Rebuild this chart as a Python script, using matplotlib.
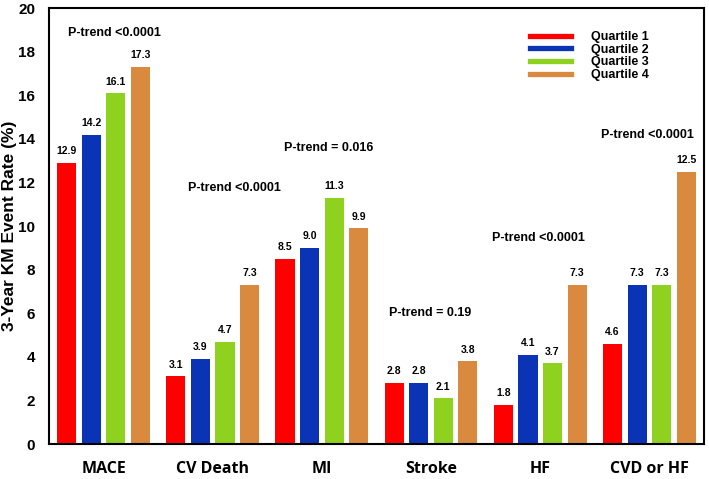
import numpy as np
import matplotlib.pyplot as plt
from matplotlib.lines import Line2D

categories = ["MACE", "CV Death", "MI", "Stroke", "HF", "CVD or HF"]
quartiles = ["Quartile 1", "Quartile 2", "Quartile 3", "Quartile 4"]
q1 = [12.9, 3.1, 8.5, 2.8, 1.8, 4.6]
q2 = [14.2, 3.9, 9.0, 2.8, 4.1, 7.3]
q3 = [16.1, 4.7, 11.3, 2.1, 3.7, 7.3]
q4 = [17.3, 7.3, 9.9, 3.8, 7.3, 12.5]
p_texts = ["P-trend <0.0001", "P-trend <0.0001", "P-trend = 0.016",
           "P-trend = 0.19", "P-trend <0.0001", "P-trend <0.0001"]
p_x = [0.10, 1.20, 2.06, 2.99, 3.98, 4.98]
p_y = [18.85, 11.75, 13.6, 6.0, 9.45, 14.2]

colors = ["#ff0000", "#0a34b5", "#8ed11f", "#d98a3f"]

fig = plt.figure(figsize=(7.09, 4.79), dpi=100)
ax = fig.add_axes([0.069, 0.073, 0.924, 0.910])

x = np.arange(len(categories))
width = 0.175
step = 0.225
series = [q1, q2, q3, q4]
for i, vals in enumerate(series):
    xs = x + (i - 1.5) * step
    ax.bar(xs, vals, width=width, color=colors[i], zorder=2)
    for xi, v in zip(xs, vals):
        ax.text(xi, v + 0.3, f"{v:.1f}", ha="center", va="bottom",
                fontsize=7.5, fontweight="bold", family="Liberation Sans")

for t, px, py in zip(p_texts, p_x, p_y):
    ax.text(px, py, t, ha="center", va="center", fontsize=9,
            fontweight="bold", family="Liberation Sans")

ax.set_xlim(-0.5, 5.5)
ax.set_ylim(0, 20)
ax.set_yticks(range(0, 21, 2))
ax.set_xticks(x)
ax.set_xticklabels(categories, fontsize=11.5, fontweight="bold", family="Open Sans")
ax.tick_params(axis="x", length=0, pad=12)
ax.tick_params(axis="y", length=0, pad=10)
for lab in ax.get_yticklabels():
    lab.set_fontweight("bold")
    lab.set_fontsize(11)
    lab.set_family("Liberation Sans")
ax.set_ylabel("3-Year KM Event Rate (%)", fontsize=12.5, fontweight="bold",
              family="Liberation Sans")
ax.yaxis.set_label_coords(-0.048, 0.5)
for s in ax.spines.values():
    s.set_linewidth(1.5)

handles = [Line2D([0], [0], color=c, lw=3.8) for c in colors]
ax.legend(handles, quartiles, loc="upper right", bbox_to_anchor=(0.933, 0.973),
          frameon=False, handlelength=3.3, handletextpad=1.6, labelspacing=0.05,
          prop={"family": "Liberation Sans", "weight": "bold", "size": 9})

fig.savefig("out.png", dpi=100)
